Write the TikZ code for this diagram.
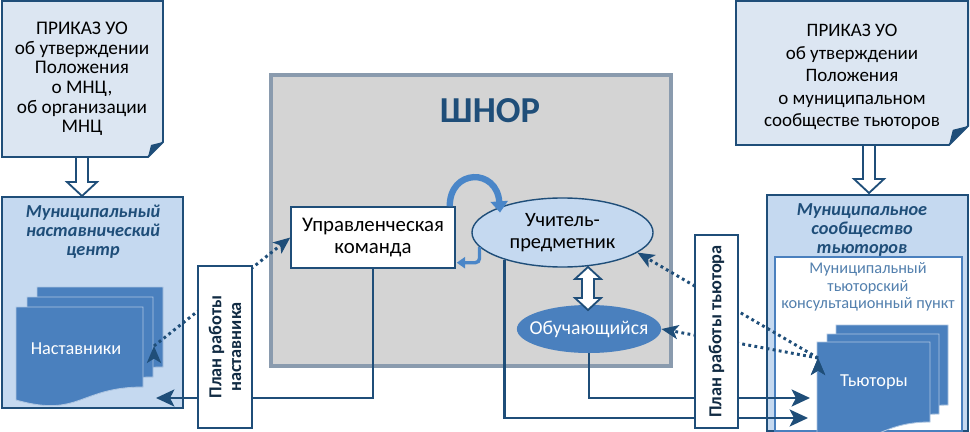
\documentclass[tikz,border=0pt]{standalone}
\usepackage{fontspec}
\setmainfont{Carlito}
\usetikzlibrary{arrows.meta,calc,positioning,shapes.geometric}

\definecolor{navy}{HTML}{1F4E79}
\definecolor{paleblue}{HTML}{DCE6F2}
\definecolor{boxblue}{HTML}{C5D9F0}
\definecolor{midblue}{HTML}{4A80BE}
\definecolor{loopblue}{HTML}{4A86C8}
\definecolor{shnorgray}{HTML}{D4D4D4}
\definecolor{shnorline}{HTML}{8A9BAE}
\definecolor{pointtext}{HTML}{5380AE}

\tikzstyle{every node}+=[inner sep=0.5mm,align=center]
\tikzstyle{docfill}=[draw=navy,fill=paleblue,line width=1.4pt]
\tikzstyle{bigbox}=[draw=navy,fill=boxblue,line width=1.4pt]
\tikzstyle{stackpage}=[draw=white!55!midblue,fill=midblue,line width=0.6pt]
\tikzstyle{hollow}=[draw=navy,fill=white,line width=1.3pt]
\tikzstyle{plan}=[draw=navy,fill=white,line width=1.4pt,rotate=90,font=\fontsize{13}{14}\selectfont\bfseries,text=navy!55!black]
\tikzstyle{link}=[navy,line width=2.1pt,-{Stealth[length=13pt,width=12pt,inset=3pt]}]
\tikzstyle{dotlink}=[navy,line width=2.1pt,dash pattern=on 2pt off 2.4pt,-{Stealth[length=12pt,width=10pt,inset=3pt]}]
\tikzstyle{loopflow}=[loopblue,line width=4.5pt,-{Triangle[length=8pt,width=12pt]}]
\tikzstyle{backflow}=[loopblue,line width=2.4pt,rounded corners=3pt,-{Triangle[length=6pt,width=8pt]}]

\newcommand{\drawlinks}[2][\empty]{
	\foreach \a/\b in {#2}{
		\draw[#1] (\a) edge (\b);
	}
}
% order sheet with folded corner: x1,y1,x2,y2,fold
\newcommand{\orderdoc}[5]{
	\filldraw[docfill] (#1,#2) -- (#3,#2) -- (#3,#4-#5) -- (#3-#5,#4) -- (#1,#4) -- cycle;
	\fill[navy] (#3,#4-#5) -- (#3-#5,#4) -- (#3-0.8*#5,#4-0.8*#5) -- cycle;
}
% one page of a document stack: x,y,w,h
\newcommand{\docpage}[4]{
	\filldraw[stackpage] (#1,#2) -- (#1+#3,#2) -- (#1+#3,#2+0.80*#4)
		.. controls (#1+0.5*#3,#2+0.80*#4) and (#1+0.5*#3,#2+1.11*#4) .. (#1,#2+0.93*#4) -- cycle;
}
% hollow block arrow pointing down: x,top,tip
\newcommand{\hollowdown}[3]{
	\filldraw[hollow] (#1-6,#2) -- (#1+6,#2) -- (#1+6,#3-14) -- (#1+15,#3-14) -- (#1,#3)
		-- (#1-15,#3-14) -- (#1-6,#3-14) -- cycle;
}

\begin{document}
\begin{tikzpicture}[x=0.025cm,y=-0.025cm]
\useasboundingbox (0,0) rectangle (970,432);

% orders
\orderdoc{2}{1}{163}{157}{15}
\orderdoc{736}{1}{968}{145}{19}
\node[font=\fontsize{13.7}{14}\selectfont] (orderL) at (82,79)
	{ПРИКАЗ УО\\об утверждении\\Положения\\о МНЦ,\\об организации\\МНЦ};
\node[font=\fontsize{13.5}{16}\selectfont] (orderR) at (852,77)
	{ПРИКАЗ УО\\об утверждении\\Положения\\о муниципальном\\сообществе тьюторов};
\hollowdown{82}{157}{196}
\hollowdown{869}{145}{193}

% ШНОР
\node[draw=shnorline,fill=shnorgray,line width=2.4pt,minimum width=10cm,minimum height=7.275cm] (shnor) at (471,220.5) {};
\node[font=\fontsize{26}{28}\selectfont\bfseries,text=navy] (shnorT) at (490,111) {ШНОР};

% municipal centres
\node[bigbox,minimum width=4.525cm,minimum height=5.275cm] (mnc) at (92.5,302.5) {};
\node[font=\fontsize{13}{13.5}\selectfont\bfseries\itshape,text=navy] (mncT) at (93,232)
	{Муниципальный\\наставнический\\центр};
\node[bigbox,minimum width=5.025cm,minimum height=5.9cm] (mst) at (867.5,313) {};
\node[font=\fontsize{13}{13.5}\selectfont\bfseries\itshape,text=navy] (mstT) at (862,230)
	{Муниципальное\\сообщество\\тьюторов};
\node[draw=midblue,fill=white,line width=1pt,minimum width=4.675cm,minimum height=4.35cm] (mtkp) at (868.5,344) {};
\node[font=\fontsize{11.6}{12.4}\selectfont,text=pointtext] (mtkpT) at (868,287)
	{Муниципальный\\тьюторский\\консультационный пункт};

% stacks
\docpage{37}{287}{126}{100}
\docpage{27}{297}{126}{100}
\docpage{16}{307}{127}{100}
\node[font=\fontsize{13}{14}\selectfont,text=white] (nast) at (76,349) {Наставники};
\docpage{836}{325}{112}{100}
\docpage{827}{334}{112}{100}
\docpage{817}{342}{113}{100}
\node[font=\fontsize{13}{14}\selectfont,text=white] (tut) at (874,382) {Тьюторы};

% inside ШНОР
\node[draw=navy,fill=white,line width=1pt,minimum width=4.1cm,minimum height=1.525cm,font=\fontsize{14.8}{15.5}\selectfont] (upr) at (373,237.5)
	{Управленческая\\команда};
\node[ellipse,draw=navy,fill=boxblue,line width=1pt,minimum width=4.525cm,minimum height=1.725cm,inner sep=0pt,font=\fontsize{14.5}{15.5}\selectfont] (uch) at (562.5,232.5)
	{Учитель-\\предметник};
\node[ellipse,fill=midblue,minimum width=3.45cm,minimum height=1.2cm,inner sep=0pt,inner xsep=-6pt,font=\fontsize{14}{15}\selectfont,text=white] (obu) at (589,329)
	{Обучающийся};
\filldraw[hollow] (588,267) -- (601,279) -- (594,279) -- (594,298) -- (601,298) -- (588,310)
	-- (575,298) -- (582,298) -- (582,279) -- (575,279) -- cycle;
\draw[loopflow] ($(upr.north east)+(-6,0)$) .. controls ($(upr.north east)+(-6,-38)$) and (497,168) .. ($(uch.north west)+(2,5)$);
\draw[backflow] (uch.190) |- ($(upr.south east)+(1,-6)$);

% connectors
\coordinate (nastIn) at (156,398);
\coordinate (nastOut) at (154,346);
\coordinate (tutIn1) at (810,398);
\coordinate (tutIn2) at (808,418);
\coordinate (tutOut) at (818,358);
\draw[link] (upr.south) |- (nastIn);
\draw[link] (uch.205) |- (tutIn2);
\draw[link] (obu.south) |- (tutIn1);
\drawlinks[dotlink]{nastOut/upr.west,tutOut/uch.-15,tutOut/obu.east}

% plans
\node[plan,minimum width=4.05cm,minimum height=1.35cm] (planN) at (225,347) {План работы\\наставника};
\node[plan,minimum width=4.825cm,minimum height=1.075cm] (planT) at (716.5,331.5) {План работы тьютора};
\end{tikzpicture}
\end{document}
